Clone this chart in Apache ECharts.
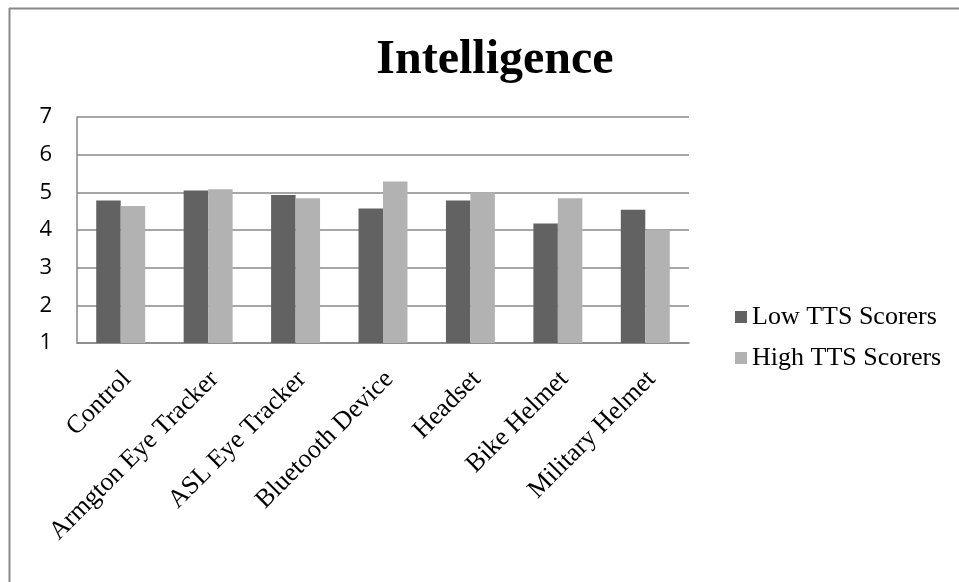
<!DOCTYPE html>
<html>
<head>
<meta charset="utf-8">
<script src="https://cdn.jsdelivr.net/npm/echarts@6/dist/echarts.min.js"></script>
<style>
html,body{margin:0;padding:0;background:#fff;}
#chart{width:959px;height:582px;}
</style>
</head>
<body>
<div id="chart"></div>
<script>
const categories = ["Control", "Armgton Eye Tracker", "ASL Eye Tracker", "Bluetooth Device", "Headset", "Bike Helmet", "Military Helmet"];
const lowTTS = [4.78, 5.05, 4.93, 4.57, 4.78, 4.17, 4.54];
const highTTS = [4.64, 5.08, 4.84, 5.29, 5.00, 4.84, 4.00];
const seriesNames = ["Low TTS Scorers", "High TTS Scorers"];
const yTicks = { min: 1, max: 7, interval: 1 };

const chart = echarts.init(document.getElementById('chart'), null, {renderer: 'canvas'});
const serif = '"Liberation Serif", "Times New Roman", serif';
chart.setOption({
  animation: false,
  backgroundColor: '#ffffff',
  title: {
    text: 'Intelligence',
    left: 490,
    top: 32,
    textAlign: 'center',
    textStyle: { fontFamily: serif, fontWeight: 'bold', fontSize: 48, color: '#000' }
  },
  graphic: [
    { type: 'line', shape: { x1: 9, y1: 8.5, x2: 959, y2: 8.5 }, style: { stroke: '#888', lineWidth: 2 } },
    { type: 'line', shape: { x1: 9.5, y1: 8, x2: 9.5, y2: 582 }, style: { stroke: '#888', lineWidth: 2 } }
  ],
  legend: {
    orient: 'vertical',
    left: 730,
    top: 299,
    itemWidth: 12,
    itemHeight: 12,
    itemGap: 15,
    icon: 'rect',
    data: seriesNames,
    textStyle: { fontFamily: serif, fontSize: 26, color: '#000' }
  },
  grid: { left: 77, right: 270, top: 117, bottom: 239, containLabel: false },
  xAxis: {
    type: 'category',
    data: categories,
    axisLine: { show: true, lineStyle: { color: '#888', width: 1.5 } },
    axisTick: { show: false },
    axisLabel: {
      rotate: 45,
      interval: 0,
      margin: 26,
      verticalAlign: 'top',
      lineHeight: 18,
      fontFamily: serif,
      fontSize: 26,
      color: '#000'
    }
  },
  yAxis: {
    type: 'value',
    min: yTicks.min,
    max: yTicks.max,
    interval: yTicks.interval,
    axisLine: { show: true, lineStyle: { color: '#888', width: 1.5 } },
    axisTick: { show: false },
    splitLine: { show: true, lineStyle: { color: '#888', width: 1.5 } },
    axisLabel: {
      margin: 25,
      fontFamily: '"Open Sans", "Liberation Sans", sans-serif',
      fontSize: 22,
      color: '#000'
    }
  },
  series: [
    {
      name: seriesNames[0],
      type: 'bar',
      data: lowTTS,
      barGap: '0%',
      barCategoryGap: '44%',
      itemStyle: { color: '#626262' }
    },
    {
      name: seriesNames[1],
      type: 'bar',
      data: highTTS,
      barGap: '0%',
      barCategoryGap: '44%',
      itemStyle: { color: '#b2b2b2' }
    }
  ]
});
</script>
</body>
</html>
